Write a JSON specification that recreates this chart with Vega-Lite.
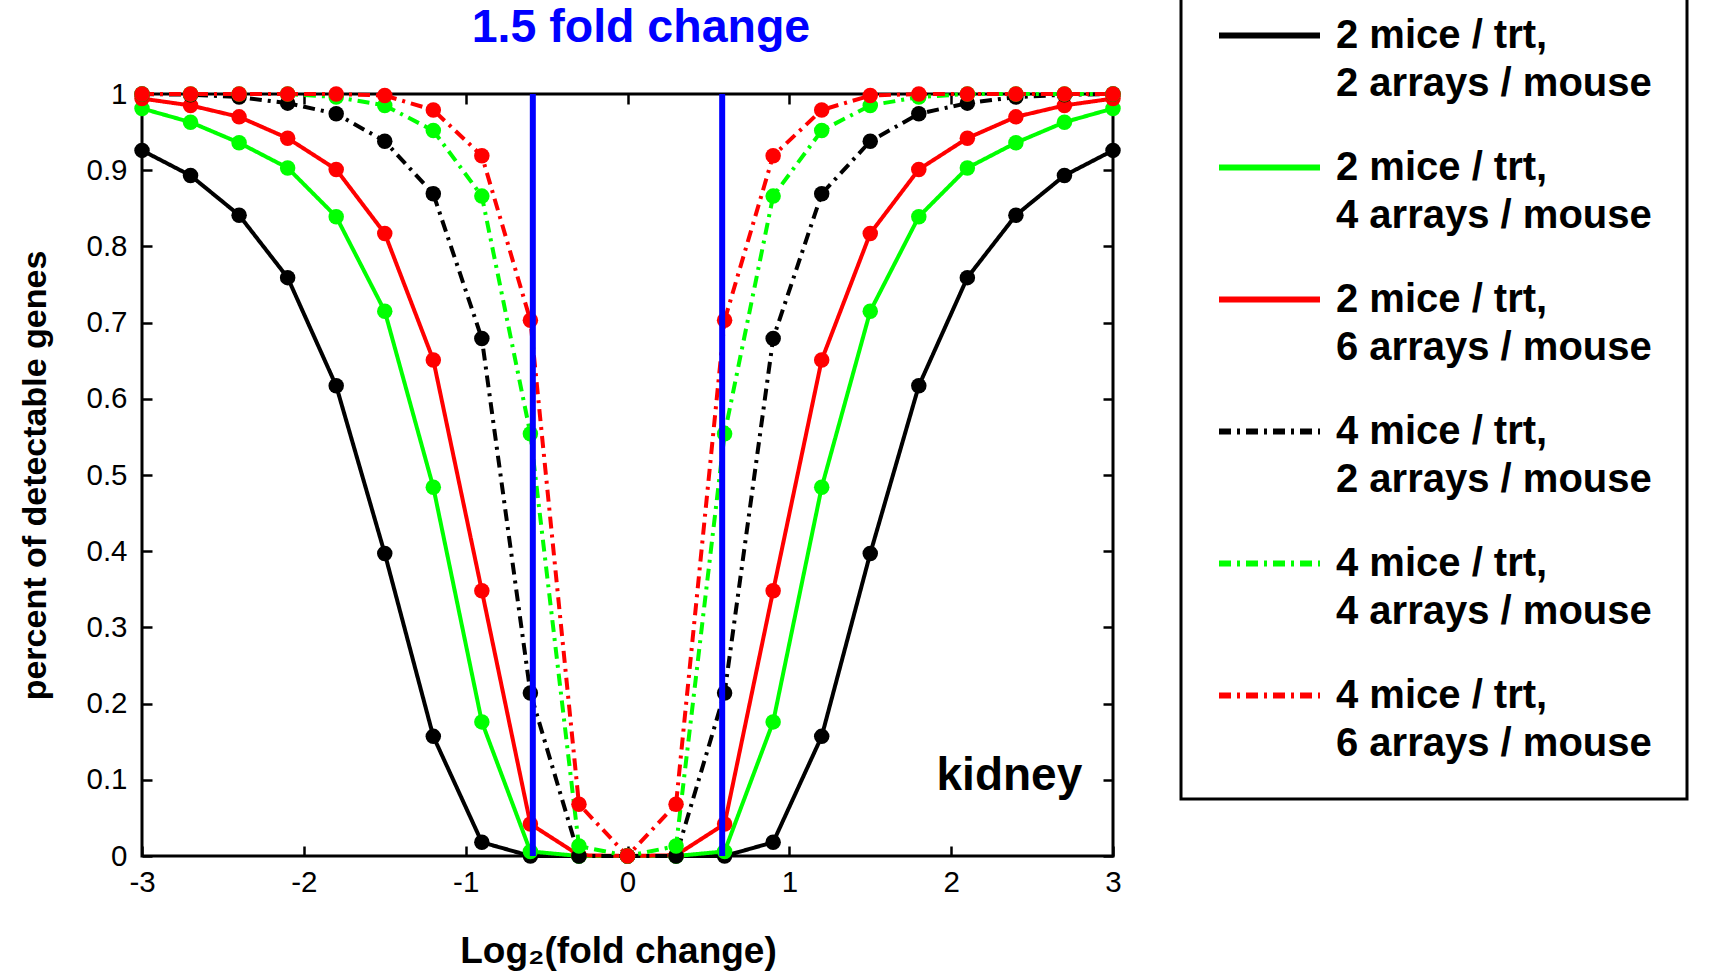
{
  "$schema": "https://vega.github.io/schema/vega-lite/v6.json",
  "width": 971,
  "height": 762,
  "autosize": {"type": "none"},
  "padding": {"left": 142, "top": 94, "right": 597, "bottom": 117},
  "background": "white",
  "config": {
    "view": {"stroke": "black", "strokeWidth": 3},
    "font": "Liberation Sans"
  },
  "layer": [
    {
      "data": {"values": [
        {"setup": "2 mice / trt, 2 arrays / mouse", "x": -3, "y": 0.926},
        {"setup": "2 mice / trt, 2 arrays / mouse", "x": -2.7, "y": 0.893},
        {"setup": "2 mice / trt, 2 arrays / mouse", "x": -2.4, "y": 0.841},
        {"setup": "2 mice / trt, 2 arrays / mouse", "x": -2.1, "y": 0.759},
        {"setup": "2 mice / trt, 2 arrays / mouse", "x": -1.8, "y": 0.617},
        {"setup": "2 mice / trt, 2 arrays / mouse", "x": -1.5, "y": 0.397},
        {"setup": "2 mice / trt, 2 arrays / mouse", "x": -1.2, "y": 0.157},
        {"setup": "2 mice / trt, 2 arrays / mouse", "x": -0.9, "y": 0.018},
        {"setup": "2 mice / trt, 2 arrays / mouse", "x": -0.6, "y": 0},
        {"setup": "2 mice / trt, 2 arrays / mouse", "x": -0.3, "y": 0},
        {"setup": "2 mice / trt, 2 arrays / mouse", "x": 0, "y": 0},
        {"setup": "2 mice / trt, 2 arrays / mouse", "x": 0.3, "y": 0},
        {"setup": "2 mice / trt, 2 arrays / mouse", "x": 0.6, "y": 0},
        {"setup": "2 mice / trt, 2 arrays / mouse", "x": 0.9, "y": 0.018},
        {"setup": "2 mice / trt, 2 arrays / mouse", "x": 1.2, "y": 0.157},
        {"setup": "2 mice / trt, 2 arrays / mouse", "x": 1.5, "y": 0.397},
        {"setup": "2 mice / trt, 2 arrays / mouse", "x": 1.8, "y": 0.617},
        {"setup": "2 mice / trt, 2 arrays / mouse", "x": 2.1, "y": 0.759},
        {"setup": "2 mice / trt, 2 arrays / mouse", "x": 2.4, "y": 0.841},
        {"setup": "2 mice / trt, 2 arrays / mouse", "x": 2.7, "y": 0.893},
        {"setup": "2 mice / trt, 2 arrays / mouse", "x": 3, "y": 0.926},

        {"setup": "2 mice / trt, 4 arrays / mouse", "x": -3, "y": 0.981},
        {"setup": "2 mice / trt, 4 arrays / mouse", "x": -2.7, "y": 0.963},
        {"setup": "2 mice / trt, 4 arrays / mouse", "x": -2.4, "y": 0.936},
        {"setup": "2 mice / trt, 4 arrays / mouse", "x": -2.1, "y": 0.903},
        {"setup": "2 mice / trt, 4 arrays / mouse", "x": -1.8, "y": 0.839},
        {"setup": "2 mice / trt, 4 arrays / mouse", "x": -1.5, "y": 0.715},
        {"setup": "2 mice / trt, 4 arrays / mouse", "x": -1.2, "y": 0.484},
        {"setup": "2 mice / trt, 4 arrays / mouse", "x": -0.9, "y": 0.176},
        {"setup": "2 mice / trt, 4 arrays / mouse", "x": -0.6, "y": 0.006},
        {"setup": "2 mice / trt, 4 arrays / mouse", "x": -0.3, "y": 0},
        {"setup": "2 mice / trt, 4 arrays / mouse", "x": 0, "y": 0},
        {"setup": "2 mice / trt, 4 arrays / mouse", "x": 0.3, "y": 0},
        {"setup": "2 mice / trt, 4 arrays / mouse", "x": 0.6, "y": 0.006},
        {"setup": "2 mice / trt, 4 arrays / mouse", "x": 0.9, "y": 0.176},
        {"setup": "2 mice / trt, 4 arrays / mouse", "x": 1.2, "y": 0.484},
        {"setup": "2 mice / trt, 4 arrays / mouse", "x": 1.5, "y": 0.715},
        {"setup": "2 mice / trt, 4 arrays / mouse", "x": 1.8, "y": 0.839},
        {"setup": "2 mice / trt, 4 arrays / mouse", "x": 2.1, "y": 0.903},
        {"setup": "2 mice / trt, 4 arrays / mouse", "x": 2.4, "y": 0.936},
        {"setup": "2 mice / trt, 4 arrays / mouse", "x": 2.7, "y": 0.963},
        {"setup": "2 mice / trt, 4 arrays / mouse", "x": 3, "y": 0.981},

        {"setup": "2 mice / trt, 6 arrays / mouse", "x": -3, "y": 0.994},
        {"setup": "2 mice / trt, 6 arrays / mouse", "x": -2.7, "y": 0.985},
        {"setup": "2 mice / trt, 6 arrays / mouse", "x": -2.4, "y": 0.970},
        {"setup": "2 mice / trt, 6 arrays / mouse", "x": -2.1, "y": 0.942},
        {"setup": "2 mice / trt, 6 arrays / mouse", "x": -1.8, "y": 0.901},
        {"setup": "2 mice / trt, 6 arrays / mouse", "x": -1.5, "y": 0.817},
        {"setup": "2 mice / trt, 6 arrays / mouse", "x": -1.2, "y": 0.651},
        {"setup": "2 mice / trt, 6 arrays / mouse", "x": -0.9, "y": 0.348},
        {"setup": "2 mice / trt, 6 arrays / mouse", "x": -0.6, "y": 0.042},
        {"setup": "2 mice / trt, 6 arrays / mouse", "x": -0.3, "y": 0.001},
        {"setup": "2 mice / trt, 6 arrays / mouse", "x": 0, "y": 0},
        {"setup": "2 mice / trt, 6 arrays / mouse", "x": 0.3, "y": 0.001},
        {"setup": "2 mice / trt, 6 arrays / mouse", "x": 0.6, "y": 0.042},
        {"setup": "2 mice / trt, 6 arrays / mouse", "x": 0.9, "y": 0.348},
        {"setup": "2 mice / trt, 6 arrays / mouse", "x": 1.2, "y": 0.651},
        {"setup": "2 mice / trt, 6 arrays / mouse", "x": 1.5, "y": 0.817},
        {"setup": "2 mice / trt, 6 arrays / mouse", "x": 1.8, "y": 0.901},
        {"setup": "2 mice / trt, 6 arrays / mouse", "x": 2.1, "y": 0.942},
        {"setup": "2 mice / trt, 6 arrays / mouse", "x": 2.4, "y": 0.970},
        {"setup": "2 mice / trt, 6 arrays / mouse", "x": 2.7, "y": 0.985},
        {"setup": "2 mice / trt, 6 arrays / mouse", "x": 3, "y": 0.994},

        {"setup": "4 mice / trt, 2 arrays / mouse", "x": -3, "y": 1},
        {"setup": "4 mice / trt, 2 arrays / mouse", "x": -2.7, "y": 0.999},
        {"setup": "4 mice / trt, 2 arrays / mouse", "x": -2.4, "y": 0.996},
        {"setup": "4 mice / trt, 2 arrays / mouse", "x": -2.1, "y": 0.988},
        {"setup": "4 mice / trt, 2 arrays / mouse", "x": -1.8, "y": 0.974},
        {"setup": "4 mice / trt, 2 arrays / mouse", "x": -1.5, "y": 0.938},
        {"setup": "4 mice / trt, 2 arrays / mouse", "x": -1.2, "y": 0.869},
        {"setup": "4 mice / trt, 2 arrays / mouse", "x": -0.9, "y": 0.679},
        {"setup": "4 mice / trt, 2 arrays / mouse", "x": -0.6, "y": 0.214},
        {"setup": "4 mice / trt, 2 arrays / mouse", "x": -0.3, "y": 0},
        {"setup": "4 mice / trt, 2 arrays / mouse", "x": 0, "y": 0},
        {"setup": "4 mice / trt, 2 arrays / mouse", "x": 0.3, "y": 0},
        {"setup": "4 mice / trt, 2 arrays / mouse", "x": 0.6, "y": 0.214},
        {"setup": "4 mice / trt, 2 arrays / mouse", "x": 0.9, "y": 0.679},
        {"setup": "4 mice / trt, 2 arrays / mouse", "x": 1.2, "y": 0.869},
        {"setup": "4 mice / trt, 2 arrays / mouse", "x": 1.5, "y": 0.938},
        {"setup": "4 mice / trt, 2 arrays / mouse", "x": 1.8, "y": 0.974},
        {"setup": "4 mice / trt, 2 arrays / mouse", "x": 2.1, "y": 0.988},
        {"setup": "4 mice / trt, 2 arrays / mouse", "x": 2.4, "y": 0.996},
        {"setup": "4 mice / trt, 2 arrays / mouse", "x": 2.7, "y": 0.999},
        {"setup": "4 mice / trt, 2 arrays / mouse", "x": 3, "y": 1},

        {"setup": "4 mice / trt, 4 arrays / mouse", "x": -3, "y": 1},
        {"setup": "4 mice / trt, 4 arrays / mouse", "x": -2.7, "y": 1},
        {"setup": "4 mice / trt, 4 arrays / mouse", "x": -2.4, "y": 1},
        {"setup": "4 mice / trt, 4 arrays / mouse", "x": -2.1, "y": 1},
        {"setup": "4 mice / trt, 4 arrays / mouse", "x": -1.8, "y": 0.996},
        {"setup": "4 mice / trt, 4 arrays / mouse", "x": -1.5, "y": 0.985},
        {"setup": "4 mice / trt, 4 arrays / mouse", "x": -1.2, "y": 0.952},
        {"setup": "4 mice / trt, 4 arrays / mouse", "x": -0.9, "y": 0.866},
        {"setup": "4 mice / trt, 4 arrays / mouse", "x": -0.6, "y": 0.554},
        {"setup": "4 mice / trt, 4 arrays / mouse", "x": -0.3, "y": 0.013},
        {"setup": "4 mice / trt, 4 arrays / mouse", "x": 0, "y": 0},
        {"setup": "4 mice / trt, 4 arrays / mouse", "x": 0.3, "y": 0.013},
        {"setup": "4 mice / trt, 4 arrays / mouse", "x": 0.6, "y": 0.554},
        {"setup": "4 mice / trt, 4 arrays / mouse", "x": 0.9, "y": 0.866},
        {"setup": "4 mice / trt, 4 arrays / mouse", "x": 1.2, "y": 0.952},
        {"setup": "4 mice / trt, 4 arrays / mouse", "x": 1.5, "y": 0.985},
        {"setup": "4 mice / trt, 4 arrays / mouse", "x": 1.8, "y": 0.996},
        {"setup": "4 mice / trt, 4 arrays / mouse", "x": 2.1, "y": 1},
        {"setup": "4 mice / trt, 4 arrays / mouse", "x": 2.4, "y": 1},
        {"setup": "4 mice / trt, 4 arrays / mouse", "x": 2.7, "y": 1},
        {"setup": "4 mice / trt, 4 arrays / mouse", "x": 3, "y": 1},

        {"setup": "4 mice / trt, 6 arrays / mouse", "x": -3, "y": 1},
        {"setup": "4 mice / trt, 6 arrays / mouse", "x": -2.7, "y": 1},
        {"setup": "4 mice / trt, 6 arrays / mouse", "x": -2.4, "y": 1},
        {"setup": "4 mice / trt, 6 arrays / mouse", "x": -2.1, "y": 1},
        {"setup": "4 mice / trt, 6 arrays / mouse", "x": -1.8, "y": 1},
        {"setup": "4 mice / trt, 6 arrays / mouse", "x": -1.5, "y": 0.998},
        {"setup": "4 mice / trt, 6 arrays / mouse", "x": -1.2, "y": 0.979},
        {"setup": "4 mice / trt, 6 arrays / mouse", "x": -0.9, "y": 0.919},
        {"setup": "4 mice / trt, 6 arrays / mouse", "x": -0.6, "y": 0.703},
        {"setup": "4 mice / trt, 6 arrays / mouse", "x": -0.3, "y": 0.068},
        {"setup": "4 mice / trt, 6 arrays / mouse", "x": 0, "y": 0},
        {"setup": "4 mice / trt, 6 arrays / mouse", "x": 0.3, "y": 0.068},
        {"setup": "4 mice / trt, 6 arrays / mouse", "x": 0.6, "y": 0.703},
        {"setup": "4 mice / trt, 6 arrays / mouse", "x": 0.9, "y": 0.919},
        {"setup": "4 mice / trt, 6 arrays / mouse", "x": 1.2, "y": 0.979},
        {"setup": "4 mice / trt, 6 arrays / mouse", "x": 1.5, "y": 0.998},
        {"setup": "4 mice / trt, 6 arrays / mouse", "x": 1.8, "y": 1},
        {"setup": "4 mice / trt, 6 arrays / mouse", "x": 2.1, "y": 1},
        {"setup": "4 mice / trt, 6 arrays / mouse", "x": 2.4, "y": 1},
        {"setup": "4 mice / trt, 6 arrays / mouse", "x": 2.7, "y": 1},
        {"setup": "4 mice / trt, 6 arrays / mouse", "x": 3, "y": 1}
      ]},
      "mark": {"type": "line", "strokeWidth": 4, "point": {"filled": true, "size": 240}},
      "encoding": {
        "x": {"field": "x", "type": "quantitative",
          "scale": {"domain": [-3, 3], "nice": false, "zero": false},
          "axis": {"orient": "bottom", "values": [-3, -2, -1, 0, 1, 2, 3], "domain": false, "grid": false,
            "tickSize": -10, "tickWidth": 2.5, "tickColor": "black",
            "labelFont": "Liberation Sans", "labelFontSize": 29.5, "labelColor": "black", "labelPadding": 22,
            "labelFlush": false, "labelOverlap": false,
            "labelExpr": "replace(datum.label, '−', '-')",
            "title": "Log₂(fold change)", "titleFont": "Liberation Sans", "titleFontSize": 37, "titleFontWeight": "bold",
            "titleColor": "black", "titleBaseline": "alphabetic", "titleY": 106, "titleX": 476, "titleAlign": "center"}},
        "y": {"field": "y", "type": "quantitative",
          "scale": {"domain": [0, 1], "nice": false},
          "axis": {"orient": "left", "values": [0, 0.1, 0.2, 0.3, 0.4, 0.5, 0.6, 0.7, 0.8, 0.9, 1], "format": ".1~f",
            "domain": false, "grid": false,
            "tickSize": -10, "tickWidth": 2.5, "tickColor": "black",
            "labelFont": "Liberation Sans", "labelFontSize": 29.5, "labelColor": "black", "labelPadding": 25,
            "labelFlush": false, "labelOverlap": false,
            "title": "percent of detectable genes", "titleFont": "Liberation Sans", "titleFontSize": 34, "titleFontWeight": "bold",
            "titleColor": "black", "titleBaseline": "middle", "titleX": -107}},
        "color": {"field": "setup", "type": "nominal",
          "scale": {"domain": ["2 mice / trt, 2 arrays / mouse", "2 mice / trt, 4 arrays / mouse", "2 mice / trt, 6 arrays / mouse", "4 mice / trt, 2 arrays / mouse", "4 mice / trt, 4 arrays / mouse", "4 mice / trt, 6 arrays / mouse"],
            "range": ["#000000", "#00ff00", "#ff0000", "#000000", "#00ff00", "#ff0000"]},
          "legend": {"title": null, "orient": "none", "legendX": 1039, "legendY": -147, "direction": "vertical",
            "symbolType": "stroke", "symbolSize": 10201, "symbolStrokeWidth": 6,
            "labelFont": "Liberation Sans", "labelFontSize": 40, "labelFontWeight": "bold", "labelColor": "black",
            "labelLimit": 420, "labelOffset": 13, "labelBaseline": "middle",
            "labelExpr": "split(replace(datum.label, ', ', ',|') + '    ', '|')",
            "rowPadding": 10, "padding": 35, "strokeColor": "black", "fillColor": "white",
            "encode": {
              "legend": {"update": {"strokeWidth": {"value": 3}}},
              "labels": {"update": {"lineHeight": {"value": 48}}},
              "symbols": {"update": {"strokeDash": {"signal": "indexof(datum.value, '4 mice') === 0 ? [9, 7] : [1, 0]"}}}
            }}},
        "strokeDash": {"field": "setup", "type": "nominal",
          "scale": {"domain": ["2 mice / trt, 2 arrays / mouse", "2 mice / trt, 4 arrays / mouse", "2 mice / trt, 6 arrays / mouse", "4 mice / trt, 2 arrays / mouse", "4 mice / trt, 4 arrays / mouse", "4 mice / trt, 6 arrays / mouse"],
            "range": [[1, 0], [1, 0], [1, 0], [12, 6, 3, 6], [12, 6, 3, 6], [12, 6, 3, 6]]},
          "legend": null}
      }
    },
    {
      "data": {"values": [{"fold": -0.585}, {"fold": 0.585}]},
      "mark": {"type": "rule", "color": "#0000ff", "strokeWidth": 6},
      "encoding": {
        "x": {"field": "fold", "type": "quantitative",
          "axis": {"orient": "top", "values": [-3, -2, -1, 0, 1, 2, 3], "labels": false, "domain": false, "grid": false,
            "tickSize": -10, "tickWidth": 2.5, "tickColor": "black", "title": null}},
        "y": {"datum": 0, "type": "quantitative",
          "axis": {"orient": "right", "values": [0, 0.1, 0.2, 0.3, 0.4, 0.5, 0.6, 0.7, 0.8, 0.9, 1], "labels": false, "domain": false, "grid": false,
            "tickSize": -10, "tickWidth": 2.5, "tickColor": "black", "title": null}},
        "y2": {"datum": 1}
      }
    },
    {
      "data": {"values": [{"label": "kidney"}]},
      "mark": {"type": "text", "font": "Liberation Sans", "fontSize": 46, "fontWeight": "bold", "color": "black", "align": "right", "baseline": "alphabetic"},
      "encoding": {
        "x": {"datum": 2.81, "type": "quantitative", "axis": null},
        "y": {"datum": 0.0866, "type": "quantitative", "axis": null},
        "text": {"field": "label"}
      }
    },
    {
      "data": {"values": [{"label": "1.5 fold change"}]},
      "mark": {"type": "text", "font": "Liberation Sans", "fontSize": 46.5, "fontWeight": "bold", "color": "#0000ff", "align": "center", "baseline": "alphabetic"},
      "encoding": {
        "x": {"datum": 0.083, "type": "quantitative", "axis": null},
        "y": {"datum": 1.0676, "type": "quantitative", "axis": null},
        "text": {"field": "label"}
      }
    }
  ],
  "resolve": {"axis": {"x": "independent", "y": "independent"}}
}
